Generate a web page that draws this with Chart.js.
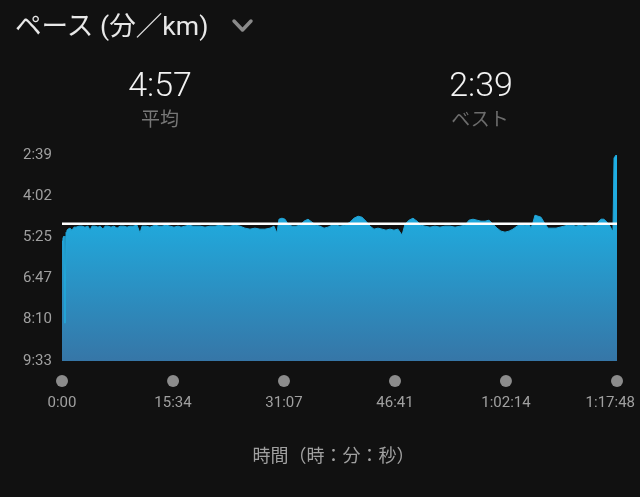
<!DOCTYPE html>
<html><head><meta charset="utf-8">
<script src="https://cdn.jsdelivr.net/npm/chart.js@4.4.1/dist/chart.umd.min.js"></script>
<style>
html,body{margin:0;padding:0;background:#111;}
#wrap{position:relative;width:640px;height:497px;overflow:hidden;background:#111;font-family:Roboto,"Noto Sans CJK JP",sans-serif;}
#c{position:absolute;left:0;top:0;}
.t{position:absolute;white-space:nowrap;}
.ctr{transform:translateX(-50%);}
</style></head><body>
<div id="wrap">
<canvas id="c" width="640" height="497"></canvas>
<div class="t" style="left:15px;top:13px;font-size:26.6px;line-height:26.6px;color:#e8e8e8;">ペース (分／km)</div>
<svg style="position:absolute;left:0;top:0" width="640" height="60"><polyline points="234,21 242.5,30 251,21" fill="none" stroke="#8a8a8a" stroke-width="3.5" stroke-linecap="round" stroke-linejoin="round"/></svg>
<div class="t ctr" id="avgVal" style="left:160px;top:67px;font-size:34px;line-height:34px;color:#f2f2f2;font-weight:300;"></div>
<div class="t ctr" style="left:160px;top:110px;font-size:19px;line-height:19px;color:#777;">平均</div>
<div class="t ctr" id="bestVal" style="left:481px;top:67px;font-size:34px;line-height:34px;color:#f2f2f2;font-weight:300;"></div>
<div class="t ctr" style="left:480px;top:110px;font-size:19px;line-height:19px;color:#6c6c6c;">ベスト</div>
</div>
<script>
// ---- data ----
const timeSec = [0,8,17,25,34,42,50,67,84,101,118,143,168,193,219,236,252,278,303,320,345,362,387,412,437,463,488,521,547,572,597,631,656,673,707,740,782,816,841,875,908,942,976,1001,1035,1068,1102,1135,1161,1203,1245,1287,1329,1371,1413,1455,1497,1539,1581,1623,1665,1707,1750,1783,1808,1825,1850,1876,1901,1935,1968,2002,2035,2069,2103,2136,2170,2204,2237,2271,2305,2338,2380,2422,2456,2490,2523,2557,2591,2624,2658,2692,2725,2759,2792,2826,2860,2885,2919,2952,2986,3020,3053,3095,3137,3179,3221,3263,3306,3348,3390,3423,3457,3491,3524,3558,3592,3625,3659,3692,3726,3760,3793,3827,3861,3894,3928,3945,3962,3978,4004,4029,4054,4088,4121,4155,4189,4222,4256,4290,4323,4357,4399,4441,4483,4508,4533,4559,4584,4609,4626,4634,4643,4660,4668];
const paceSec = [332,326,322,497,314,310,308,306,310,304,304,302,302,304,302,310,302,302,304,302,308,302,302,304,302,306,302,302,304,302,302,300,316,302,302,304,300,302,302,300,302,304,302,304,302,300,302,302,302,304,302,302,300,302,302,300,302,306,308,306,308,308,306,302,316,288,286,288,298,302,302,300,292,288,294,300,302,306,304,300,300,302,300,294,286,282,284,292,302,308,306,308,310,308,310,308,320,298,290,286,292,300,302,304,302,304,302,302,304,302,300,290,288,290,292,292,290,298,306,312,314,312,308,302,298,300,298,306,294,280,282,284,294,306,306,306,304,302,300,300,302,300,302,300,300,294,288,288,294,302,310,314,165,159,161];
const avgPace = 297;   // 4:57
const bestPace = 159;  // 2:39
const yTickValues = [159,242,325,407,490,573];
const xTickValues = [0,934,1867,2801,3734,4668];
const xTickLabels = ['0:00','15:34','31:07','46:41','1:02:14','1:17:48'];
const xTitle = '時間（時：分：秒）';

function fmtPace(s){const m=Math.floor(s/60);const r=Math.round(s-m*60);return m+':'+String(r).padStart(2,'0');}
document.getElementById('avgVal').textContent = fmtPace(avgPace);
document.getElementById('bestVal').textContent = fmtPace(bestPace);

const paceData = timeSec.map((t,i)=>({x:t,y:paceSec[i]}));
const avgData = [{x:timeSec[0],y:avgPace},{x:timeSec[timeSec.length-1],y:avgPace}];

const xDecor = {
  id:'xDecor',
  afterDraw(chart){
    const xs = chart.scales.x, ctx = chart.ctx, ca = chart.chartArea;
    const yDot = ca.bottom + 20;
    const yLab = ca.bottom + 42;
    ctx.save();
    ctx.font = '15px Roboto';
    ctx.textBaseline = 'middle';
    ctx.textAlign = 'left';
    xTickValues.forEach((v,i)=>{
      const px = xs.getPixelForValue(v);
      ctx.fillStyle = '#8c8c8c';
      ctx.beginPath(); ctx.arc(px,yDot,6,0,Math.PI*2); ctx.fill();
      const lab = xTickLabels[i];
      const w = ctx.measureText(lab).width;
      const lx = Math.min(px - w/2, chart.width - 5 - w);
      ctx.fillStyle = '#a0a0a0';
      ctx.fillText(lab, lx, yLab);
    });
    // axis title, centred slightly left of the plot centre as in the reference
    ctx.font = '18px Roboto, "Noto Sans CJK JP"';
    ctx.textAlign = 'center';
    ctx.fillStyle = '#a0a0a0';
    ctx.fillText(xTitle, (ca.left + ca.right)/2 - 6, ca.bottom + 96);
    ctx.restore();
  }
};

function fillGrad(ctx){
  const ca = ctx.chart.chartArea;
  if(!ca) return '#22a6d9';
  const g = ctx.chart.ctx.createLinearGradient(0, ca.top, 0, ca.bottom);
  g.addColorStop(0, '#1eb2e8');
  g.addColorStop(0.35, '#21a7da');
  g.addColorStop(1, '#3676a7');
  return g;
}

new Chart(document.getElementById('c'), {
  type:'line',
  data:{datasets:[
    {data:avgData, borderColor:'#ffffff', borderWidth:2.5, pointRadius:0, fill:false, order:0},
    {data:paceData, borderColor:'#22a6d9', borderWidth:1, pointRadius:0, tension:0, fill:{value:573}, backgroundColor:fillGrad, order:1}
  ]},
  options:{
    responsive:false, animation:false, events:[],
    layout:{padding:{left:23,right:23,top:155,bottom:136}},
    plugins:{legend:{display:false},tooltip:{enabled:false}},
    scales:{
      x:{type:'linear', min:0, max:4668, display:false},
      y:{type:'linear', reverse:true, min:159, max:573,
        grid:{display:false, drawTicks:false}, border:{display:false},
        afterBuildTicks(s){ s.ticks = yTickValues.map(v=>({value:v})); },
        afterFit(s){ s.width = 39; },
        ticks:{color:'#a0a0a0', font:{family:'Roboto', size:15}, padding:9, crossAlign:'far', callback:(v)=>fmtPace(v)}
      }
    }
  },
  plugins:[xDecor]
});
</script>
</body></html>
